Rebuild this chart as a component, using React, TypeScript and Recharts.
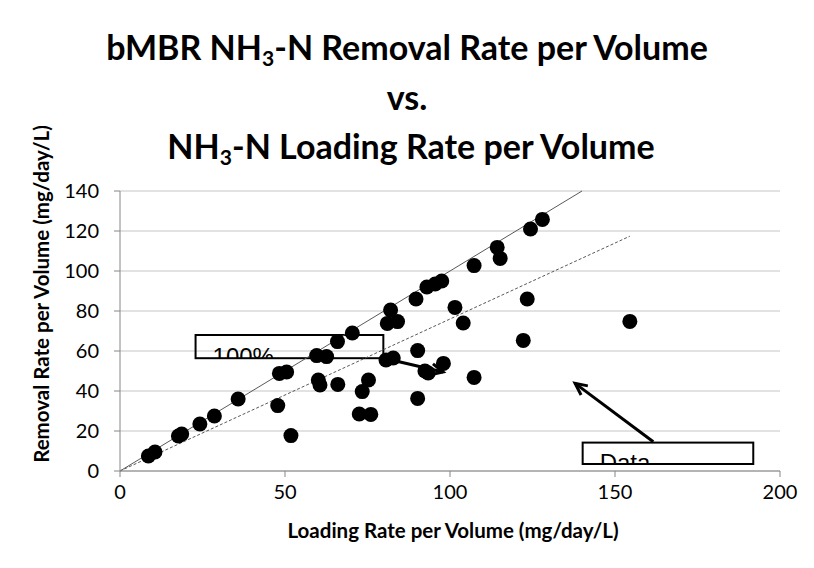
import {
  ScatterChart,
  Scatter,
  XAxis,
  YAxis,
  CartesianGrid,
  ReferenceLine,
  ReferenceArea,
} from 'recharts';

// loading rate (x) vs removal rate (y), mg/day/L
const loadingRate = [
  8.6, 10.6, 17.7, 18.7, 24.2, 28.6, 35.8, 47.8, 48.3, 50.5,
  51.8, 59.6, 62.6, 60.1, 60.6, 65.9, 66, 70.4, 72.5, 76,
  73.4, 75.3, 80.6, 82.8, 81, 82, 84.1, 89.7, 90.2, 90.2,
  92.4, 93.4, 93, 95.5, 97.5, 98, 101.5, 104, 107.3, 107.3,
  114.3, 115.2, 122.2, 123.4, 124.4, 128, 154.5,
];
const removalRate = [
  7.5, 9.5, 17.5, 18.5, 23.5, 27.5, 36, 32.7, 48.8, 49.5,
  17.7, 57.7, 57.2, 45.5, 43, 64.7, 43.3, 69, 28.5, 28.3,
  39.7, 45.5, 55.5, 56.5, 73.8, 80.5, 74.7, 86, 60.2, 36.3,
  50, 49, 92, 93.5, 95, 53.8, 81.8, 74, 102.7, 46.8,
  111.8, 106.3, 65.3, 86, 121, 125.8, 74.8,
];

const xTicks = [0, 50, 100, 150, 200];
const yTicks = [0, 20, 40, 60, 80, 100, 120, 140];

const points = loadingRate.map((x, i) => ({ x, y: removalRate[i] }));

// 100% removal line and the dashed trend line
const fullRemoval = [{ x: 0, y: 0 }, { x: 140, y: 140 }];
const trendLine = [{ x: 0, y: 0 }, { x: 154.5, y: 117.4 }];

const font = 'Lato, "Open Sans", sans-serif';

const Dot = (props: any) => (
  <circle cx={props.cx} cy={props.cy} r={7.5} fill="#000" />
);

const Arrow = (props: any) => {
  const { x1, y1, x2, y2 } = props;
  const ang = Math.atan2(y2 - y1, x2 - x1);
  const len = 13;
  const spread = 0.45;
  const ax = x2 - len * Math.cos(ang - spread);
  const ay = y2 - len * Math.sin(ang - spread);
  const bx = x2 - len * Math.cos(ang + spread);
  const by = y2 - len * Math.sin(ang + spread);
  return (
    <g>
      <line x1={x1} y1={y1} x2={x2} y2={y2} stroke="#000" strokeWidth={3} />
      <polyline
        points={`${ax},${ay} ${x2},${y2} ${bx},${by}`}
        fill="none"
        stroke="#000"
        strokeWidth={3}
      />
    </g>
  );
};

const makeBox = (id: string, text: string) => (props: any) => {
  const { x, y, width, height } = props;
  return (
    <g>
      <defs>
        <clipPath id={id}>
          <rect x={x} y={y} width={width} height={height} />
        </clipPath>
      </defs>
      <rect x={x} y={y} width={width} height={height} fill="none" stroke="#000" strokeWidth={2} />
      <text
        x={x + 17}
        y={y + height + 7}
        clipPath={`url(#${id})`}
        fontFamily='"Liberation Sans", Arial, sans-serif'
        fontSize={24}
        fill="#000"
      >
        {text}
      </text>
    </g>
  );
};

const titleLine = (top: number): React.CSSProperties => ({
  position: 'absolute',
  left: 0,
  top,
  width: 814,
  textAlign: 'center',
  fontFamily: font,
  fontWeight: 700,
  fontSize: 34,
  lineHeight: '38px',
  color: '#000',
  whiteSpace: 'nowrap',
});

const sub: React.CSSProperties = { fontSize: '0.62em', verticalAlign: '-0.3em', lineHeight: 0 };

const axisLabel: React.CSSProperties = {
  position: 'absolute',
  fontFamily: font,
  fontWeight: 700,
  fontSize: 20.5,
  whiteSpace: 'nowrap',
  color: '#000',
};

export default function App() {
  return (
    <div style={{ position: 'relative', margin: -8, width: 814, height: 568, overflow: 'hidden', background: '#fff' }}>
      <div
        style={{
          position: 'absolute',
          left: 5,
          top: 4,
          width: 900,
          height: 700,
          border: '2px solid #d9d9d9',
        }}
      />
      <div style={titleLine(28)}>
        bMBR NH<sub style={sub}>3</sub>-N Removal Rate per Volume
      </div>
      <div style={titleLine(78)}>vs.</div>
      <div style={{ ...titleLine(127), left: 4 }}>
        NH<sub style={sub}>3</sub>-N Loading Rate per Volume
      </div>
      <div
        style={{
          ...axisLabel,
          left: 41,
          top: 294,
          transform: 'translate(-50%, -50%) rotate(-90deg)',
        }}
      >
        Removal Rate per Volume (mg/day/L)
      </div>
      <div style={{ ...axisLabel, left: 453, top: 530, transform: 'translate(-50%, -50%)' }}>
        Loading Rate per Volume (mg/day/L)
      </div>
      <div style={{ position: 'absolute', left: 0, top: 0 }}>
        <ScatterChart width={814} height={568} margin={{ top: 191, right: 34, bottom: 0, left: 0 }}>
          <CartesianGrid horizontal vertical={false} stroke="#d9d9d9" strokeWidth={1.5} />
          <XAxis
            type="number"
            dataKey="x"
            domain={[0, 200]}
            ticks={xTicks}
            height={97}
            tickSize={6}
            tickMargin={8}
            stroke="#868686"
            tick={{ fontFamily: font, fontSize: 20, fill: '#000' }}
          />
          <YAxis
            type="number"
            dataKey="y"
            domain={[0, 140]}
            ticks={yTicks}
            width={120}
            tickSize={6}
            tickMargin={15}
            stroke="#868686"
            tick={{ fontFamily: font, fontSize: 20, fill: '#000' }}
          />
          <ReferenceLine segment={fullRemoval} stroke="#595959" strokeWidth={1} />
          <ReferenceLine segment={trendLine} stroke="#595959" strokeWidth={1} strokeDasharray="3 2" />
          <Scatter data={points} fill="#000" shape={Dot} isAnimationActive={false} />
          <ReferenceArea x1={22.9} x2={79.8} y1={56.4} y2={68} shape={makeBox('clip100', '100%')} />
          <ReferenceArea x1={140.2} x2={191.9} y1={3.5} y2={14.2} shape={makeBox('clipData', 'Data')} />
          <ReferenceLine segment={[{ x: 79.7, y: 56.5 }, { x: 97.9, y: 49.5 }]} shape={Arrow} />
          <ReferenceLine segment={[{ x: 161.6, y: 14.6 }, { x: 137.9, y: 43.8 }]} shape={Arrow} />
        </ScatterChart>
      </div>
    </div>
  );
}
